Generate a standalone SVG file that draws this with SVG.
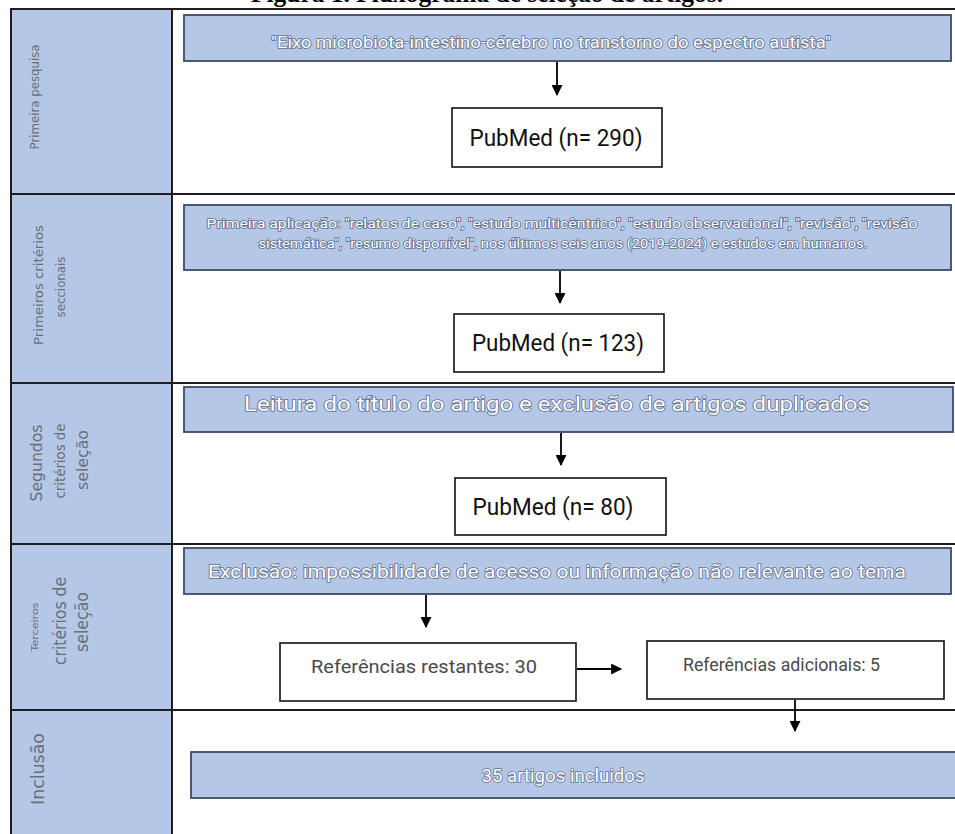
<svg xmlns="http://www.w3.org/2000/svg" width="955" height="834" viewBox="0 0 955 834">
<defs>
<style>
.frame{stroke:#1e1e1e;stroke-width:2;fill:none}
.lane{fill:#b4c7e7}
.bbox{fill:#b4c7e7;stroke:#3b4a66;stroke-width:1.8}
.wbox{fill:#fff;stroke:#111;stroke-width:1.6}
.bt{font-family:Roboto,"Liberation Sans",sans-serif;fill:#fff;stroke:#62718f;stroke-width:1.6;paint-order:stroke;text-anchor:middle}
.pt{font-family:Roboto,"Liberation Sans",sans-serif;fill:#111;text-anchor:middle}
.rt{font-family:Roboto,"Liberation Sans",sans-serif;fill:#4a4a4a}
.lt{font-family:"DejaVu Sans","Liberation Sans",sans-serif;fill:#6a6f78;text-anchor:middle}
.conn{stroke:#000;stroke-width:1.8;fill:none}
</style>
<marker id="ah" viewBox="0 0 10 10" refX="9" refY="5" markerWidth="13" markerHeight="11" markerUnits="userSpaceOnUse" orient="auto">
<path d="M0,0 L10,5 L0,10 z" fill="#000"/>
</marker>
</defs>
<rect width="955" height="834" fill="#fff"/>
<text x="487" y="2" font-family="'Liberation Serif',serif" font-weight="bold" font-size="25" textLength="472" lengthAdjust="spacingAndGlyphs" text-anchor="middle" fill="#000">Figura 1. Fluxograma de seleção de artigos.</text>

<g id="lanes">
<rect class="lane" x="11" y="8" width="161" height="826"/>
<line class="frame" x1="11" y1="8" x2="11" y2="834"/>
<line class="frame" x1="172" y1="8" x2="172" y2="834"/>
<line class="frame" x1="10" y1="9" x2="955" y2="9"/>
<line class="frame" x1="10" y1="194" x2="955" y2="194"/>
<line class="frame" x1="10" y1="383" x2="955" y2="383"/>
<line class="frame" x1="10" y1="544" x2="955" y2="544"/>
<line class="frame" x1="10" y1="710" x2="955" y2="710"/>
</g>

<g id="lane-labels">
<text class="lt" font-size="12" textLength="105" lengthAdjust="spacingAndGlyphs" transform="translate(39,97) rotate(-90)">Primeira pesquisa</text>
<text class="lt" font-size="13" textLength="120" lengthAdjust="spacingAndGlyphs" transform="translate(43,285) rotate(-90)">Primeiros critérios</text>
<text class="lt" font-size="13" textLength="61" lengthAdjust="spacingAndGlyphs" transform="translate(65,287) rotate(-90)">seccionais</text>
<text class="lt" font-size="16" textLength="77" lengthAdjust="spacingAndGlyphs" transform="translate(42,463) rotate(-90)">Segundos</text>
<text class="lt" font-size="14" textLength="75" lengthAdjust="spacingAndGlyphs" transform="translate(65,461) rotate(-90)">critérios de</text>
<text class="lt" font-size="16" textLength="60" lengthAdjust="spacingAndGlyphs" transform="translate(88,460) rotate(-90)">seleção</text>
<text class="lt" font-size="9" textLength="49" lengthAdjust="spacingAndGlyphs" transform="translate(38,627) rotate(-90)">Terceiros</text>
<text class="lt" font-size="17" textLength="88" lengthAdjust="spacingAndGlyphs" transform="translate(66,621) rotate(-90)">critérios de</text>
<text class="lt" font-size="17" textLength="60" lengthAdjust="spacingAndGlyphs" transform="translate(88,622) rotate(-90)">seleção</text>
<text class="lt" font-size="17" textLength="72" lengthAdjust="spacingAndGlyphs" transform="translate(44,769) rotate(-90)">Inclusão</text>
</g>

<g id="n1">
<rect class="bbox" x="184" y="15" width="767" height="46"/>
<text class="bt" x="551" y="48" font-size="17" textLength="560" lengthAdjust="spacingAndGlyphs">"Eixo microbiota-intestino-cérebro no transtorno do espectro autista"</text>
</g>
<g id="n2">
<rect class="wbox" x="452" y="108" width="210" height="59"/>
<text class="pt" x="556" y="146" font-size="24" textLength="173" lengthAdjust="spacingAndGlyphs">PubMed (n= 290)</text>
</g>
<g id="n3">
<rect class="bbox" x="184" y="205" width="767" height="65"/>
<text class="bt" x="562" y="228" font-size="13" stroke-width="1.3" textLength="711" lengthAdjust="spacingAndGlyphs">Primeira aplicação: "relatos de caso", "estudo multicêntrico", "estudo observacional", "revisão", "revisão</text>
<text class="bt" x="563" y="248" font-size="13" stroke-width="1.3" textLength="609" lengthAdjust="spacingAndGlyphs">sistemática", "resumo disponível", nos últimos seis anos (2019-2024) e estudos em humanos.</text>
</g>
<g id="n4">
<rect class="wbox" x="454" y="314" width="210" height="58"/>
<text class="pt" x="558" y="351" font-size="24" textLength="172" lengthAdjust="spacingAndGlyphs">PubMed (n= 123)</text>
</g>
<g id="n5">
<rect class="bbox" x="184" y="387" width="769" height="45"/>
<text class="bt" x="557" y="411" font-size="21" textLength="626" lengthAdjust="spacingAndGlyphs">Leitura do título do artigo e exclusão de artigos duplicados</text>
</g>
<g id="n6">
<rect class="wbox" x="455" y="478" width="211" height="57"/>
<text class="pt" x="553" y="515" font-size="24" textLength="161" lengthAdjust="spacingAndGlyphs">PubMed (n= 80)</text>
</g>
<g id="n7">
<rect class="bbox" x="184" y="548" width="767" height="46"/>
<text class="bt" x="557" y="578" font-size="19" textLength="698" lengthAdjust="spacingAndGlyphs">Exclusão: impossibilidade de acesso ou informação não relevante ao tema</text>
</g>
<g id="n8">
<rect class="wbox" x="280" y="643" width="296" height="58"/>
<text class="rt" x="311" y="673" font-size="19" textLength="226" lengthAdjust="spacingAndGlyphs">Referências restantes: 30</text>
</g>
<g id="n9">
<rect class="wbox" x="647" y="641" width="297" height="58"/>
<text class="rt" x="683" y="671" font-size="18" textLength="197" lengthAdjust="spacingAndGlyphs">Referências adicionais: 5</text>
</g>
<g id="n10">
<rect class="bbox" x="191" y="752" width="770" height="46"/>
<text class="bt" x="563" y="782" font-size="19" textLength="163" lengthAdjust="spacingAndGlyphs">35 artigos incluidos</text>
</g>

<g id="connectors">
<line class="conn" x1="557" y1="62" x2="557" y2="95" marker-end="url(#ah)"/>
<line class="conn" x1="560" y1="271" x2="560" y2="303" marker-end="url(#ah)"/>
<line class="conn" x1="561" y1="433" x2="561" y2="465" marker-end="url(#ah)"/>
<line class="conn" x1="426" y1="595" x2="426" y2="627" marker-end="url(#ah)"/>
<line class="conn" x1="577" y1="669" x2="621" y2="669" marker-end="url(#ah)"/>
<line class="conn" x1="795" y1="700" x2="795" y2="731" marker-end="url(#ah)"/>
</g>
</svg>
